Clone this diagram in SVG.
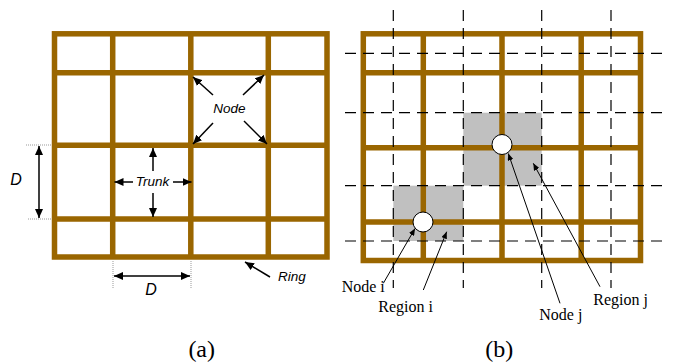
<svg xmlns="http://www.w3.org/2000/svg" width="682" height="364" viewBox="0 0 682 364">
<defs>
<marker id="ah" markerUnits="userSpaceOnUse" markerWidth="10" markerHeight="8" refX="9" refY="4" orient="auto">
<path d="M0,0 L9,4 L0,8 Z" fill="#000"/>
</marker>
<marker id="as" markerUnits="userSpaceOnUse" markerWidth="8" markerHeight="6" refX="7" refY="3" orient="auto">
<path d="M0,0 L7,3 L0,6 Z" fill="#000"/>
</marker>
<style>
.grid{fill:none;stroke:#9a6600;stroke-width:5.5}
.arr{stroke:#000;stroke-width:1.5;fill:none;marker-end:url(#ah)}
.thin{stroke:#000;stroke-width:1;fill:none;marker-end:url(#as)}
.dim{stroke:#999;stroke-width:1;stroke-dasharray:1 1;fill:none}
.dash{stroke:#000;stroke-width:1.2;stroke-dasharray:11 7;fill:none}
.sans{font-family:"Liberation Sans",Arial,sans-serif;font-style:italic;fill:#000}
.serif{font-family:"Liberation Serif","Times New Roman",serif;fill:#000}
.region{fill:#c0c0c0}
.node{fill:#fff;stroke:#000;stroke-width:1}
</style>
</defs>
<rect width="682" height="364" fill="#fff"/>

<!-- (a) -->
<g id="gridA">
<rect class="grid" x="54.5" y="33.8" width="272.5" height="223.2"/>
<path class="grid" d="M112.7,33.8V257M190.8,33.8V257M268.3,33.8V257M54.5,72.7H327M54.5,145.3H327M54.5,219H327"/>
</g>
<g id="dimA">
<path class="dim" d="M26,145H52M28,219H52M113,261V288M191,261V288"/>
</g>
<g id="connectorsA">
<line class="arr" x1="39" y1="182" x2="39" y2="146"/>
<line class="arr" x1="39" y1="182" x2="39" y2="218"/>
<line class="arr" x1="152" y1="276" x2="114" y2="276"/>
<line class="arr" x1="152" y1="276" x2="190" y2="276"/>
<line class="arr" x1="213" y1="95" x2="193" y2="77"/>
<line class="arr" x1="243" y1="95" x2="264" y2="75"/>
<line class="arr" x1="213" y1="123" x2="193" y2="144"/>
<line class="arr" x1="244" y1="121" x2="267" y2="144"/>
<line class="arr" x1="153" y1="171" x2="153" y2="148"/>
<line class="arr" x1="153" y1="193" x2="153" y2="217"/>
<line class="arr" x1="133" y1="182" x2="114.5" y2="182"/>
<line class="arr" x1="173" y1="182" x2="191.5" y2="182"/>
<line class="arr" x1="270" y1="277" x2="245" y2="262"/>
</g>
<g id="labelsA">
<text class="sans" x="229.5" y="113.3" font-size="13.5" text-anchor="middle">Node</text>
<text class="sans" x="152.5" y="185.7" font-size="13.5" text-anchor="middle">Trunk</text>
<text class="sans" x="278" y="280.7" font-size="13.5">Ring</text>
<text class="sans" x="16" y="185" font-size="16" text-anchor="middle">D</text>
<text class="sans" x="151" y="295" font-size="16" text-anchor="middle">D</text>
<text class="serif" x="201.7" y="356.5" font-size="24" text-anchor="middle">(a)</text>
</g>

<!-- (b) -->
<g id="regionJ"><rect class="region" x="463.3" y="112.7" width="78.4" height="73"/></g>
<g id="regionI"><rect class="region" x="393.3" y="185.7" width="70" height="55.3"/></g>
<g id="gridB">
<rect class="grid" x="363.3" y="33.8" width="277.2" height="226.7" stroke-width="5.3"/>
<path class="grid" stroke-width="5.3" d="M423.3,33.8V260.5M502,33.8V260.5M581.2,33.8V260.5M363.3,72.7H640.5M363.3,147.8H640.5M363.3,222H640.5"/>
</g>
<g id="dashB">
<path class="dash" d="M393.3,10V288M463.3,10V288M541.7,10V288M611,10V288M345,53.3H663M345,112.7H663M345,185.7H663M345,241H663"/>
</g>
<g id="nodeJ"><circle class="node" cx="502" cy="144.5" r="10"/></g>
<g id="nodeI"><circle class="node" cx="423" cy="222" r="10"/></g>
<g id="connectorsB">
<line class="thin" x1="383.3" y1="283.3" x2="415" y2="228.5"/>
<line class="thin" x1="423.3" y1="290" x2="446.7" y2="231.7"/>
<line class="thin" x1="560" y1="303.3" x2="508.3" y2="153.5"/>
<line class="thin" x1="600" y1="286.7" x2="533.3" y2="163.3"/>
</g>
<g id="labelsB">
<text class="serif" x="341.7" y="291.7" font-size="16">Node i</text>
<text class="serif" x="378.3" y="311.7" font-size="16">Region i</text>
<text class="serif" x="539.3" y="320" font-size="16">Node j</text>
<text class="serif" x="593.3" y="305" font-size="16">Region j</text>
<text class="serif" x="499.3" y="356.5" font-size="24" text-anchor="middle">(b)</text>
</g>
</svg>
